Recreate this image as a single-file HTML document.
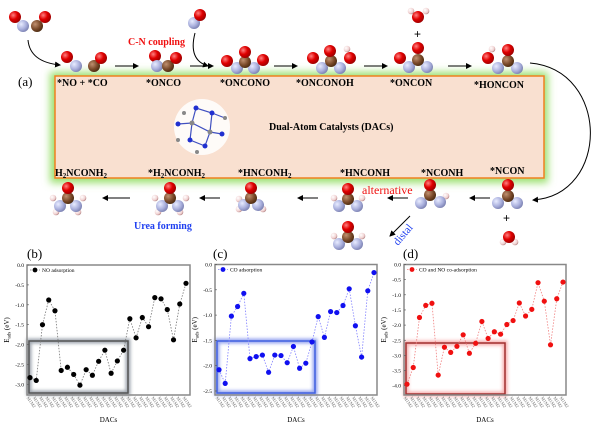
<!DOCTYPE html>
<html><head><meta charset="utf-8"><style>
body{margin:0;background:#fff}
svg{display:block;font-family:"Liberation Serif",serif}
</style></head><body>
<svg id="s" width="600" height="424" viewBox="0 0 600 424" xmlns="http://www.w3.org/2000/svg">
<defs>
<radialGradient id="gO" cx="35%" cy="35%" r="70%"><stop offset="0" stop-color="#ff8080"/><stop offset="0.5" stop-color="#e00000"/><stop offset="1" stop-color="#900"/></radialGradient>
<radialGradient id="gN" cx="35%" cy="35%" r="70%"><stop offset="0" stop-color="#e8ecff"/><stop offset="0.6" stop-color="#aab0dd"/><stop offset="1" stop-color="#7a80b0"/></radialGradient>
<radialGradient id="gC" cx="35%" cy="35%" r="70%"><stop offset="0" stop-color="#c09070"/><stop offset="0.6" stop-color="#7a4a2a"/><stop offset="1" stop-color="#4a2a10"/></radialGradient>
<radialGradient id="gH" cx="35%" cy="35%" r="70%"><stop offset="0" stop-color="#fff"/><stop offset="0.7" stop-color="#f0d0d0"/><stop offset="1" stop-color="#b08080"/></radialGradient>
<filter id="glow" x="-10%" y="-20%" width="120%" height="140%"><feGaussianBlur stdDeviation="4"/></filter>
<filter id="bl" x="-20%" y="-20%" width="140%" height="140%"><feGaussianBlur stdDeviation="1.5"/></filter>
<marker id="ar" markerWidth="6" markerHeight="6" refX="5" refY="3" orient="auto"><path d="M0,0 L6,3 L0,6 z" fill="#000"/></marker>
</defs>
<rect x="50" y="72" width="498" height="111" fill="#9be070" filter="url(#glow)"/>
<rect x="55" y="76" width="489" height="102" fill="#f9e0d0" stroke="#f08020" stroke-width="1.5"/>
<text x="18" y="86" font-size="13">(a)</text>
<g font-size="10" font-weight="bold">
<text x="57" y="86">*NO + *CO</text>
<text x="146" y="86">*ONCO</text>
<text x="220" y="86">*ONCONO</text>
<text x="296" y="86">*ONCONOH</text>
<text x="390" y="86">*ONCON</text>
<text x="474" y="88">*HONCON</text>
<text x="55" y="176">H<tspan font-size="7" dy="2">2</tspan><tspan dy="-2">NCONH</tspan><tspan font-size="7" dy="2">2</tspan></text>
<text x="148" y="176">*H<tspan font-size="7" dy="2">2</tspan><tspan dy="-2">NCONH</tspan><tspan font-size="7" dy="2">2</tspan></text>
<text x="238" y="176">*HNCONH<tspan font-size="7" dy="2">2</tspan></text>
<text x="340" y="176">*HNCONH</text>
<text x="421" y="176">*NCONH</text>
<text x="490" y="174">*NCON</text>
<text x="269" y="130">Dual-Atom Catalysts (DACs)</text>
<text x="128" y="45" fill="#f01010">C-N coupling</text>
<text x="134" y="229" fill="#2040f0">Urea forming</text>
</g>
<text x="362" y="194" font-size="12" fill="#f01010">alternative</text>
<text x="398" y="246" font-size="11" fill="#2040f0" transform="rotate(-50 398 246)">distal</text>
<g>
<circle cx="202" cy="127" r="28" fill="#fff" opacity="0.85"/>
<g stroke="#4050c0" stroke-width="1.2" fill="none"><path d="M178,124 L192,123 L210,132 L222,134 M192,123 L196,108 L212,113 L210,132 L205,146 L190,140 L192,123 M212,113 L225,118"/></g>
<g fill="#2030d0"><circle cx="178" cy="124" r="2.5"/><circle cx="196" cy="108" r="2.5"/><circle cx="212" cy="113" r="2.5"/><circle cx="190" cy="140" r="2.5"/><circle cx="205" cy="146" r="2.5"/><circle cx="222" cy="134" r="2.5"/></g>
<g fill="#888"><circle cx="192" cy="123" r="2.5"/><circle cx="210" cy="132" r="2.5"/><circle cx="184" cy="113" r="2"/><circle cx="225" cy="118" r="2"/><circle cx="178" cy="140" r="2"/><circle cx="197" cy="152" r="2"/></g>
</g>
<g stroke="#000" stroke-width="1" fill="none" marker-end="url(#ar)">
<path d="M28,40 Q30,62 60,65"/>
<path d="M195,33 Q188,60 208,66"/>
<line x1="115" y1="66" x2="138" y2="66"/>
<line x1="190" y1="66" x2="213" y2="66"/>
<line x1="274" y1="66" x2="297" y2="66"/>
<line x1="364" y1="66" x2="387" y2="66"/>
<line x1="448" y1="66" x2="471" y2="66"/>
<path d="M530,63 C610,70 610,195 533,200"/>
<line x1="490" y1="198" x2="470" y2="198"/>
<line x1="408" y1="198" x2="388" y2="198"/>
<line x1="318" y1="198" x2="298" y2="198"/>
<line x1="220" y1="198" x2="200" y2="198"/>
<line x1="130" y1="198" x2="103" y2="198"/>
<line x1="410" y1="216" x2="390" y2="236"/>
</g>
<g font-size="12" font-family="Liberation Sans,sans-serif"><text x="414" y="38">+</text><text x="503" y="222">+</text></g>
<g id="mol"></g>
<g id="charts" font-size="6"></g>
<g font-size="13"><text x="27" y="258">(b)</text><text x="213" y="258">(c)</text><text x="403" y="258">(d)</text></g>
</svg>
<script>
var NS="http://www.w3.org/2000/svg";
function el(p,t,a,txt){var e=document.createElementNS(NS,t);for(var k in a)e.setAttribute(k,a[k]);if(txt!=null)e.textContent=txt;p.appendChild(e);return e;}
var mol=document.getElementById('mol');
var R={O:6,N:6,C:6,H:3.3};
var atoms=[
['O',15,17],['N',23,26],['C',37,26],['O',45,17],
['N',194,23],['O',200,15],
['O',67,57],['N',76,66],['C',94,66],['O',101,58],
['O',155,56],['N',157,66],['C',168,66],['O',176,58],
['O',227,61],['N',237,68],['N',254,68],['C',245,62],['O',245,52],['O',263,60],
['H',347,49],['O',313,58],['N',322,68],['N',340,68],['C',331,61],['O',330,51],['O',350,58],
['H',411,11],['H',426,11],['O',418,17],
['O',400,58],['N',409,67],['N',427,67],['C',418,60],['O',418,48],
['H',492,49],['O',488,58],['N',498,68],['N',517,68],['C',508,61],['O',508,50],
['N',498,203],['N',517,203],['C',508,196],['O',508,185],
['H',503,242],['H',515,242],['O',509,237],
['N',421,203],['H',446,196],['N',440,202],['C',430,195],['O',430,185],
['H',334,198],['H',362,198],['N',339,206],['N',357,206],['C',348,199],['O',348,189],
['H',334,236],['N',339,244],['N',357,244],['C',348,237],['O',348,227],['H',362,236],
['H',239,199],['H',239,209],['H',263,209],['N',244,205],['N',258,205],['C',251,198],['O',251,188],
['H',155,198],['H',158,212],['H',180,212],['H',186,198],['N',162,206],['N',178,206],['C',170,198],['O',170,188],
['H',53,198],['H',56,212],['H',78,212],['H',83,198],['N',60,206],['N',76,206],['C',68,198],['O',68,188]
];
atoms.forEach(function(a){el(mol,'circle',{cx:a[1],cy:a[2],r:R[a[0]],fill:'url(#g'+a[0]+')'});});

var ch=document.getElementById('charts');
function chart(o){
 var g=ch;
 el(g,'rect',{x:o.bx,y:o.by,width:o.bw,height:o.bh,fill:'none',stroke:o.boxc,'stroke-width':5,opacity:0.5,filter:'url(#bl)'});
 el(g,'rect',{x:o.bx,y:o.by,width:o.bw,height:o.bh,fill:'none',stroke:o.boxc2,'stroke-width':1.5});
 el(g,'rect',{x:o.x0,y:o.y0,width:o.x1-o.x0,height:o.yb-o.y0,fill:'none',stroke:'#888','stroke-width':1.5});
 o.ticks.forEach(function(t){var y=o.y0-t*o.k;el(g,'line',{x1:o.x0,y1:y,x2:o.x0+2,y2:y,stroke:'#555','stroke-width':0.6});
  el(g,'text',{x:o.x0-3,y:y+2,'text-anchor':'end','font-size':5.5},t.toFixed(1));});
 var n=o.v.length,st=(o.px1-o.px0)/(n-1),pts=[];
 o.v.forEach(function(v,i){pts.push((o.px0+i*st).toFixed(1)+','+(o.y0-v*o.k).toFixed(1));});
 el(g,'polyline',{points:pts.join(' '),fill:'none',stroke:o.lc,'stroke-width':0.8,'stroke-dasharray':'1.5,1.5'});
 o.v.forEach(function(v,i){el(g,'circle',{cx:o.px0+i*st,cy:o.y0-v*o.k,r:2.6,fill:o.c});
  el(g,'text',{x:o.px0+i*st,y:o.yb+8,'font-size':4.5,fill:'#666',transform:'rotate(55 '+(o.px0+i*st)+' '+(o.yb+8)+')','text-anchor':'middle'},'M1M2');});
 el(g,'line',{x1:o.x0+3,y1:o.y0+5,x2:o.x0+13,y2:o.y0+5,stroke:o.lc,'stroke-width':0.8,'stroke-dasharray':'1.5,1.5'});
 el(g,'circle',{cx:o.x0+8,cy:o.y0+5,r:2.4,fill:o.c});
 el(g,'text',{x:o.x0+15,y:o.y0+7,'font-size':5.5},o.lab);
 el(g,'text',{x:(o.x0+o.x1)/2,y:422,'text-anchor':'middle','font-size':7},'DACs');
 var yl=(o.y0+o.yb)/2;
 var t=el(g,'text',{x:o.x0-18,y:yl,'text-anchor':'middle','font-size':7,transform:'rotate(-90 '+(o.x0-18)+' '+yl+')'},'E');
 el(t,'tspan',{'font-size':5,dy:1.5},'ads'); el(t,'tspan',{dy:-1.5},' (eV)');
}
chart({x0:27,x1:190,y0:265,yb:395,k:39.8,ticks:[0,-0.5,-1,-1.5,-2,-2.5,-3],px0:30,px1:186,c:'#000',lc:'#777',lab:'NO adsorption',
 v:[-2.83,-2.9,-1.5,-0.88,-1.15,-2.65,-2.57,-2.75,-3.02,-2.63,-2.77,-2.42,-2.14,-2.72,-2.41,-2.14,-1.35,-1.83,-1.32,-1.55,-0.82,-0.85,-1.12,-1.88,-0.98,-0.46],
 bx:29,by:341,bw:99,bh:52,boxc:'#405060',boxc2:'#555'});
chart({x0:215,x1:377,y0:264.5,yb:395,k:50.6,ticks:[0,-0.5,-1,-1.5,-2,-2.5],px0:219,px1:374,c:'#1010f0',lc:'#8080ff',lab:'CO adsorption',
 v:[-2.08,-2.35,-1.02,-0.83,-0.57,-1.86,-1.82,-1.79,-2.13,-1.79,-1.8,-1.94,-1.62,-2.05,-1.95,-1.53,-1.03,-1.44,-0.93,-0.95,-0.81,-0.48,-1.21,-1.83,-0.52,-0.16],
 bx:217,by:341,bw:98,bh:52,boxc:'#3050e0',boxc2:'#4060e0'});
chart({x0:404,x1:566,y0:264.5,yb:395,k:30.3,ticks:[0,-0.5,-1,-1.5,-2,-2.5,-3,-3.5,-4],px0:407,px1:563,c:'#f01010',lc:'#f08080',lab:'CO and NO co-adsorption',
 v:[-3.95,-3.4,-1.75,-1.35,-1.28,-3.65,-2.73,-2.9,-2.7,-2.32,-2.93,-2.6,-1.88,-2.44,-2.22,-2.3,-1.98,-1.85,-1.27,-1.7,-1.48,-0.6,-1.21,-2.65,-1.13,-0.58],
 bx:406,by:343,bw:99,bh:51,boxc:'#f06060',boxc2:'#a03030'});
</script>
</body></html>
